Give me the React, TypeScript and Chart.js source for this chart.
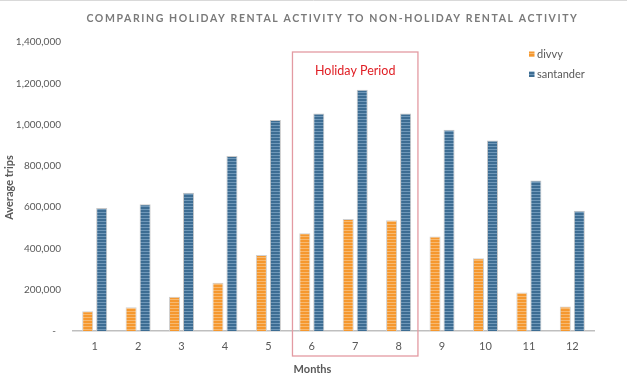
import React, { useEffect, useRef } from "react";
import { Chart, registerables } from "chart.js";

Chart.register(...registerables);

const months = ["1", "2", "3", "4", "5", "6", "7", "8", "9", "10", "11", "12"];
const divvy = [96000, 115000, 166000, 234000, 368000, 473000, 543000, 536000, 458000, 352000, 187000, 119000];
const santander = [596000, 614000, 670000, 848000, 1022000, 1054000, 1169000, 1054000, 975000, 923000, 729000, 582000];
const seriesNames = ["divvy", "santander"];
const holidayMonths = ["6", "7", "8"];
const yMax = 1400000;
const yStep = 200000;

const TITLE = "COMPARING HOLIDAY RENTAL ACTIVITY TO NON-HOLIDAY RENTAL ACTIVITY";
const FONT = "Lato, 'Liberation Sans', sans-serif";
const GRAY = "#595959";

function makePattern(base: string, stripe: string) {
  const c = document.createElement("canvas");
  c.width = 4;
  c.height = 3;
  const g = c.getContext("2d")!;
  g.fillStyle = base;
  g.fillRect(0, 0, 4, 3);
  g.fillStyle = stripe;
  g.fillRect(0, 2, 4, 1);
  const ctx = document.createElement("canvas").getContext("2d")!;
  return ctx.createPattern(c, "repeat")!;
}

export default function App() {
  const ref = useRef<HTMLCanvasElement>(null);
  useEffect(() => {
    const canvas = ref.current!;
    const orange = makePattern("#F5982F", "#F8B96F");
    const blue = makePattern("#3D6D93", "#6F98B9");
    const fills = [orange, blue];

    const overlay = {
      id: "overlay",
      afterDraw(chart: any) {
        const ctx = chart.ctx;
        const area = chart.chartArea;
        const xs = chart.scales.x;
        ctx.save();
        // top frame line
        ctx.strokeStyle = "#D9D9D9";
        ctx.lineWidth = 1;
        ctx.beginPath();
        ctx.moveTo(0, 0.5);
        ctx.lineTo(chart.width, 0.5);
        ctx.stroke();

        // title
        ctx.fillStyle = "#7A7A7A";
        ctx.font = `bold 10.5px ${FONT}`;
        (ctx as any).letterSpacing = "1.6px";
        ctx.textAlign = "center";
        ctx.textBaseline = "middle";
        ctx.fillText(TITLE, (area.left + area.right) / 2 - 1, 19);
        (ctx as any).letterSpacing = "0px";

        // holiday box
        const cw = (area.right - area.left) / months.length;
        const i0 = months.indexOf(holidayMonths[0]);
        const i1 = months.indexOf(holidayMonths[holidayMonths.length - 1]);
        const bl = xs.getPixelForValue(i0) - cw * 0.445;
        const br = xs.getPixelForValue(i1) + cw * 0.445;
        const bt = area.top + 10;
        const bb = area.bottom + 25;
        ctx.strokeStyle = "#E39AA2";
        ctx.lineWidth = 1.3;
        ctx.strokeRect(bl, bt, br - bl, bb - bt);
        ctx.fillStyle = "#E01E24";
        ctx.font = `12.5px ${FONT}`;
        ctx.textAlign = "center";
        ctx.fillText("Holiday Period", (bl + br) / 2, bt + 19);

        // legend
        ctx.font = `11px ${FONT}`;
        ctx.textAlign = "left";
        seriesNames.forEach((name, i) => {
          const y = 54 + i * 20;
          ctx.fillStyle = fills[i];
          ctx.fillRect(529, y - 2.5, 5.5, 5.5);
          ctx.fillStyle = GRAY;
          ctx.fillText(name, 537, y);
        });

        // axis titles
        ctx.fillStyle = GRAY;
        ctx.font = `bold 11px ${FONT}`;
        ctx.textAlign = "center";
        ctx.fillText("Months", (area.left + area.right) / 2 - 21, 369);
        ctx.save();
        ctx.translate(9.5, (area.top + area.bottom) / 2 + 1);
        ctx.rotate(-Math.PI / 2);
        ctx.fillText("Average trips", 0, 0);
        ctx.restore();
        ctx.restore();
      },
    };

    const chart = new Chart(canvas, {
      type: "bar",
      data: {
        labels: months,
        datasets: [
          {
            label: seriesNames[0],
            data: divvy,
            backgroundColor: orange as any,
            borderColor: "#D0D0D0",
            borderWidth: 1,
            categoryPercentage: 0.645,
            barPercentage: 0.79,
          },
          {
            label: seriesNames[1],
            data: santander,
            backgroundColor: blue as any,
            borderColor: "#C8C8C8",
            borderWidth: 1,
            categoryPercentage: 0.645,
            barPercentage: 0.79,
          },
        ],
      },
      options: {
        animation: false,
        responsive: false,
        layout: { padding: { left: 0, top: 42, right: 33, bottom: 0 } },
        plugins: {
          legend: { display: false },
          title: { display: false },
          tooltip: { enabled: false },
        },
        scales: {
          x: {
            grid: { display: false, drawTicks: false },
            border: { display: true, color: "#BFBFBF", width: 1.5 },
            ticks: { color: GRAY, font: { family: FONT, size: 11 }, padding: 9 },
            afterFit(scale: any) {
              scale.height = 54;
            },
          },
          y: {
            min: 0,
            max: yMax,
            grid: { display: false, drawTicks: false },
            border: { display: false },
            ticks: {
              stepSize: yStep,
              color: GRAY,
              font: { family: FONT, size: 10 },
              padding: 12,
              callback: (v: any) => (Number(v) === 0 ? "-  " : Number(v).toLocaleString("en-US")),
            },
            afterFit(scale: any) {
              scale.width = 73;
            },
          },
        },
      },
      plugins: [overlay],
    });
    return () => chart.destroy();
  }, []);

  return (
    <div style={{ position: "absolute", left: 0, top: 0, width: 627, height: 385, background: "#fff" }}>
      <canvas ref={ref} width={627} height={385} style={{ width: 627, height: 385, display: "block" }} />
    </div>
  );
}
